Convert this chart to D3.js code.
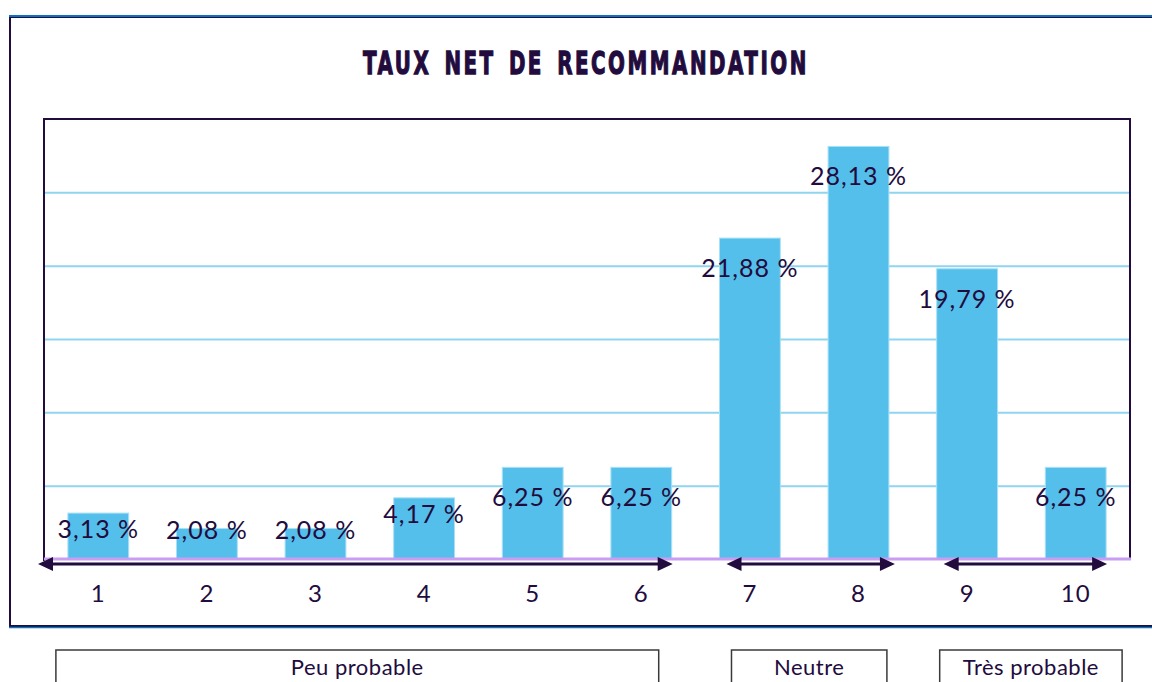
<!DOCTYPE html>
<html>
<head>
<meta charset="utf-8">
<script src="https://cdn.jsdelivr.net/npm/d3@7"></script>
<style>
  html, body { margin: 0; padding: 0; background: #fff; }
  svg { display: block; }
</style>
</head>
<body>
<svg id="chart" width="1152" height="682"></svg>
<script>
// Scores 1..10 and the share of respondents giving each score (%)
const categories = ["1", "2", "3", "4", "5", "6", "7", "8", "9", "10"];
const shares = [3.13, 2.08, 2.08, 4.17, 6.25, 6.25, 21.88, 28.13, 19.79, 6.25];
const yTicks = [0, 5, 10, 15, 20, 25, 30];

// Score groups shown under the axis
const groupLabels = ["Peu probable", "Neutre", "Très probable"];
const groupFirst = ["1", "7", "9"];
const groupLast = ["6", "8", "10"];

const title = "TAUX NET DE RECOMMANDATION";

const ink = "#220b3d";
const barFill = "#54bfea";
const gridColor = "#90d5ef";
const baseColor = "#c99df2";
const frameBlue = "#0a74bf";
const bodyFont = "'Lato', 'Noto Sans', sans-serif";

const svg = d3.select("#chart");

// plot area
const plot = { left: 44, top: 119, right: 1130, bottom: 559 };

const x = d3.scaleBand()
  .domain(categories)
  .range([plot.left, plot.right])
  .paddingInner(0.44)
  .paddingOuter(0.22);

const y = d3.scaleLinear()
  .domain([0, 30])
  .range([plot.bottom, plot.top]);

// outer frame
svg.append("rect")
  .attr("x", 10).attr("y", 17)
  .attr("width", 1160).attr("height", 609)
  .attr("fill", "none").attr("stroke", ink).attr("stroke-width", 2);
svg.append("line")
  .attr("x1", 9).attr("x2", 1152).attr("y1", 16).attr("y2", 16)
  .attr("stroke", frameBlue).attr("stroke-width", 2);
svg.append("line")
  .attr("x1", 9).attr("x2", 1152).attr("y1", 627.5).attr("y2", 627.5)
  .attr("stroke", frameBlue).attr("stroke-width", 1.5);

// title: heavy, letter-spaced, squeezed horizontally to a condensed look
const titleWidth = 446;
const titleG = svg.append("g");
const titleText = titleG.append("text")
  .attr("x", 0).attr("y", 0)
  .attr("font-family", "'DejaVu Sans', sans-serif")
  .attr("font-weight", 700)
  .attr("font-size", 31.5)
  .attr("letter-spacing", 4)
  .attr("word-spacing", 6)
  .attr("fill", ink)
  .attr("stroke", ink)
  .attr("stroke-width", 1.3)
  .text(title);
const natural = titleText.node().getComputedTextLength();
const sx = titleWidth / natural;
titleG.attr("transform", `translate(${586 - titleWidth / 2},74) scale(${sx},1)`);

// horizontal gridlines
const yAxis = d3.axisLeft(y)
  .tickValues(yTicks.filter(v => v > 0 && v < 30))
  .tickSize(-(plot.right - plot.left))
  .tickFormat("");
const gAxis = svg.append("g")
  .attr("transform", `translate(${plot.left},0)`)
  .call(yAxis);
gAxis.select(".domain").remove();
gAxis.selectAll(".tick line")
  .attr("stroke", gridColor).attr("stroke-width", 2);

// bars
svg.append("g")
  .selectAll("rect")
  .data(categories.map((c, i) => ({ c, v: shares[i] })))
  .join("rect")
  .attr("x", d => x(d.c))
  .attr("y", d => y(d.v))
  .attr("width", x.bandwidth())
  .attr("height", d => y(0) - y(d.v))
  .attr("fill", barFill)
  .attr("stroke", "#a8e0f6")
  .attr("stroke-width", 1);

// plot border (left, top, right) and purple baseline
svg.append("path")
  .attr("d", `M${plot.left},${plot.bottom + 2} V${plot.top} H${plot.right} V${plot.bottom + 1}`)
  .attr("fill", "none").attr("stroke", ink).attr("stroke-width", 2);
svg.append("line")
  .attr("x1", plot.left).attr("x2", plot.right + 1)
  .attr("y1", plot.bottom).attr("y2", plot.bottom)
  .attr("stroke", baseColor).attr("stroke-width", 3);

// value labels, inside the top of each bar
svg.append("g")
  .selectAll("text")
  .data(categories.map((c, i) => ({ c, v: shares[i] })))
  .join("text")
  .attr("x", d => x(d.c) + x.bandwidth() / 2)
  .attr("y", d => {
    const top = y(d.v);
    const h = y(0) - top;
    return h > 80 ? top + 39 : Math.min(top + 25, plot.bottom - 20);
  })
  .attr("text-anchor", "middle")
  .attr("font-family", bodyFont)
  .attr("font-size", 25)
  .attr("letter-spacing", 1)
  .attr("fill", ink)
  .text(d => d.v.toFixed(2).replace(".", ",") + " %");

// category labels
const xAxis = d3.axisBottom(x).tickSize(0).tickPadding(0);
const gx = svg.append("g")
  .attr("transform", `translate(0,${plot.bottom})`)
  .call(xAxis);
gx.select(".domain").remove();
gx.selectAll(".tick text")
  .attr("y", 43)
  .attr("dy", 0)
  .attr("font-family", bodyFont)
  .attr("font-size", 24)
  .attr("letter-spacing", 1)
  .attr("fill", ink);

// group arrows and captions
const arrowY = 564;
const barL = c => x(c);
const barR = c => x(c) + x.bandwidth();
const arrowEnds = groupLabels.map((g, i) => {
  const l = i === 0 ? plot.left - 6 : barL(groupFirst[i]) + 7;
  const r = barR(groupLast[i]) + (i === 1 ? 6 : 1);
  return [l, r];
});
const boxEnds = groupLabels.map((g, i) => {
  if (i === 0) return [barL(groupFirst[i]) - 12, barR(groupLast[i]) - 13];
  if (i === 1) return [barL(groupFirst[i]) + 12, barR(groupLast[i]) - 2];
  return [barL(groupFirst[i]) + 3, barR(groupLast[i]) + 16];
});

const head = 15, half = 7;
const arrows = svg.append("g");
arrowEnds.forEach(([l, r]) => {
  arrows.append("line")
    .attr("x1", l + head - 1).attr("x2", r - head + 1)
    .attr("y1", arrowY).attr("y2", arrowY)
    .attr("stroke", ink).attr("stroke-width", 3);
  arrows.append("path")
    .attr("d", `M${l},${arrowY} L${l + head},${arrowY - half} L${l + head},${arrowY + half} Z`)
    .attr("fill", ink);
  arrows.append("path")
    .attr("d", `M${r},${arrowY} L${r - head},${arrowY - half} L${r - head},${arrowY + half} Z`)
    .attr("fill", ink);
});

const boxes = svg.append("g");
groupLabels.forEach((g, i) => {
  const [l, r] = boxEnds[i];
  boxes.append("rect")
    .attr("x", l).attr("y", 650)
    .attr("width", r - l).attr("height", 60)
    .attr("fill", "#fff").attr("stroke", "#3a3a3a").attr("stroke-width", 1.5);
  boxes.append("text")
    .attr("x", (l + r) / 2).attr("y", 675)
    .attr("text-anchor", "middle")
    .attr("font-family", bodyFont)
    .attr("font-size", 22)
    .attr("letter-spacing", 0.5)
    .attr("fill", ink)
    .text(g);
});
</script>
</body>
</html>
